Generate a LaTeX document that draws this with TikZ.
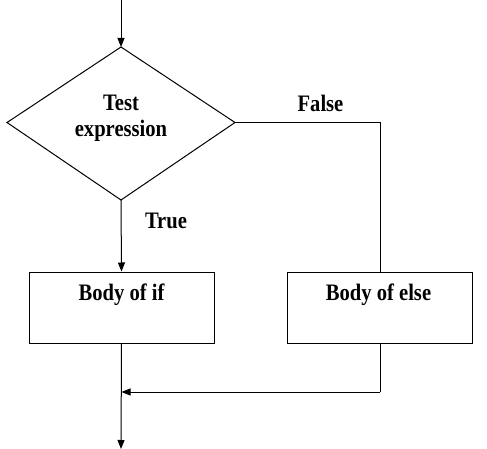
\documentclass[tikz,border=0pt]{standalone}
\usepackage{fontspec}
\setmainfont{Liberation Serif}
\usetikzlibrary{shapes.geometric,arrows.meta}
\newcommand{\lbl}[1]{\scalebox{1.03}[1.18]{\bfseries #1}}
\begin{document}
\begin{tikzpicture}[x=1pt,y=-1pt,
  line/.style={draw=black,line width=1pt},
  arr/.style={line,-{Triangle[length=9pt,width=7pt]}},
  txt/.style={font=\fontsize{20}{22}\selectfont,inner sep=0pt,anchor=center},
  boxnode/.style={line,minimum width=185pt,minimum height=71pt,inner sep=0pt}]
\useasboundingbox (0,0) rectangle (487,449);
\fill[white] (0,0) rectangle (487,449);
% diamond
\coordinate (dt) at (121,47);
\coordinate (dl) at (7,122.5);
\coordinate (dr) at (235,122.5);
\coordinate (db) at (121,200);
\draw[line] (dt) -- (dr) -- (db) -- (dl) -- cycle;
\node[txt] (t1) at (121,103) {\lbl{Test}};
\node[txt] (t2) at (121,131) {\lbl{expression}};
% boxes
\node[boxnode] (ifb) at (121.5,307.5) {};
\node[boxnode] (elseb) at (379.5,307.5) {};
\node[txt] (iftxt) at (121.5,295) {\lbl{Body of if}};
\node[txt] (elsetxt) at (378.5,295) {\lbl{Body of else}};
% labels
\node[txt] (fl) at (320.5,103) {\lbl{False}};
\node[txt] (tl) at (166,221) {\lbl{True}};
% connectors
\coordinate (top) at (121,0);
\coordinate (corner) at (380,122.5);
\coordinate (join) at (380,392);
\coordinate (merge) at (121,392);
\coordinate (out) at (121,449);
\draw[arr] (top) -- (dt);
\draw[arr] (db) -- (ifb.north);
\draw[line] (dr) -- (corner) -- (elseb.north -| corner);
\draw[line] (elseb.south -| join) -- (join);
\draw[arr] (join) -- ([xshift=0.5pt]merge);
\draw[arr] (ifb.south) -- (out);
\end{tikzpicture}
\end{document}
